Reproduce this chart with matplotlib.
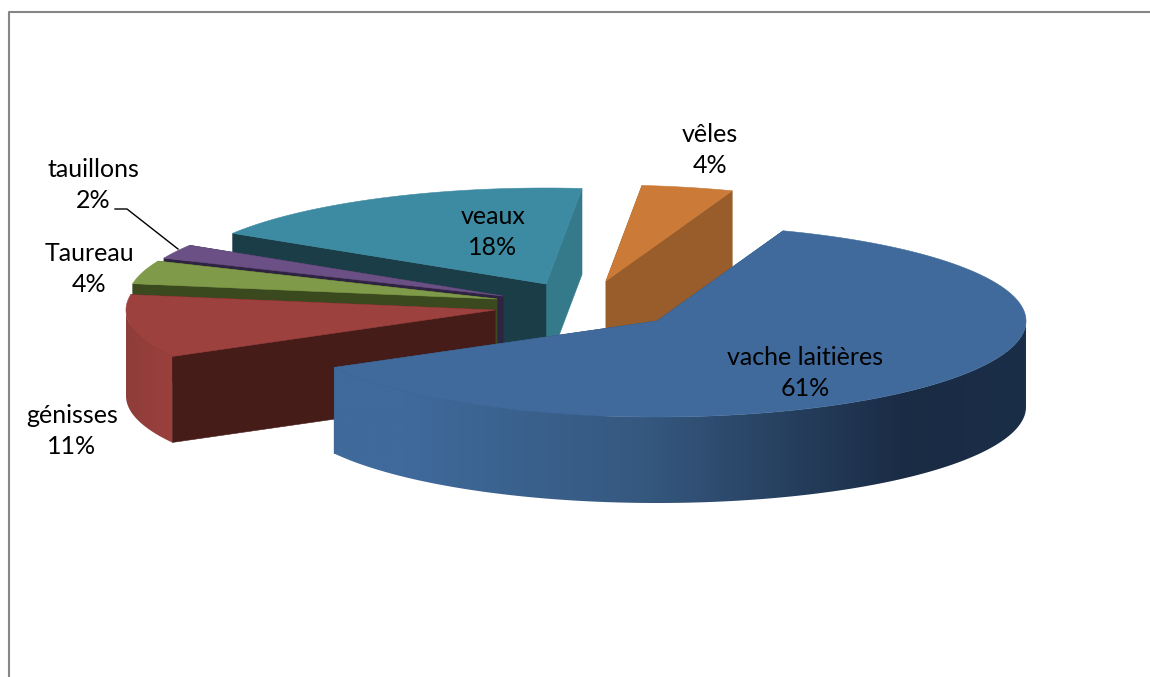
"""
Exploded 3D-style pie: herd composition.
"""
import numpy as np
import matplotlib
matplotlib.use("Agg")
import matplotlib.pyplot as plt
from matplotlib.colors import LinearSegmentedColormap
from matplotlib.patches import Polygon

# data, clockwise from the first slice
names = ["vache laitières", "génisses", "Taureau", "tauillons", "veaux", "vêles"]
shares = [61.4, 10.6, 3.9, 2.4, 17.7, 4.0]

# layout (pixels)
START_ANGLE = 70.0
RX, RY, DEPTH = 369, 96, 86
apex_x = [657, 495, 497, 503, 546, 606]
apex_y = [321, 310, 299, 296, 284, 281]
label_x = [805, 72, 89, 93, 493, 710]
label_y = [373, 431, 269, 185, 232, 150]

top_colors = ["#3f6a9b", "#9c413e", "#7f9b49", "#6a5084", "#3d8ba2", "#cb7a37"]
side_start = ["#2b4a6e", "#461c19", "#3a4a1e", "#2f2342", "#1a3d47", "#985d2a"]
side_end = ["#2b4a6e", "#461c19", "#3a4a1e", "#2f2342", "#357a8a", "#985d2a"]
wall_stops = [[(0, "#3f6a9b"), (0.1, "#3f6a9b"), (0.45, "#35587f"), (0.83, "#1a2b44"), (1, "#1b2e48")],
              ["#8f3d3a", "#9a403d"],
              ["#7f9b49", "#7f9b49"],
              ["#6a5084", "#6a5084"],
              ["#3d8ba2", "#3d8ba2"],
              ["#cb7a37", "#cb7a37"]]
draw_order = [5, 4, 3, 2, 1, 0]

plt.rcParams["font.family"] = ["Lato", "DejaVu Sans"]

fig = plt.figure(figsize=(11.5, 6.77), dpi=100)
ax = fig.add_axes([0, 0, 1, 1])
ax.set_xlim(0, 1150)
ax.set_ylim(677, 0)
ax.axis("off")

# chart frame, runs off the right and bottom of the picture
ax.plot([9, 9, 1150], [677, 12, 12], color="#868686", linewidth=1.5)

angles = np.cumsum([0] + [s / sum(shares) * 360 for s in shares])
angles = np.radians(START_ANGLE - angles)


def rim(i, t):
    return apex_x[i] + RX * np.cos(t), apex_y[i] - RY * np.sin(t)


def quad(pts, color, z):
    ax.add_patch(Polygon(pts, closed=True, facecolor=color, edgecolor=color,
                         linewidth=0.4, zorder=z))


for z, i in enumerate(draw_order):
    base = 10 * (z + 1)
    t0, t1 = angles[i], angles[i + 1]
    ax0, ay0 = apex_x[i], apex_y[i]

    # cut faces, the higher one first so the lower one sits over it
    faces = [(t0, side_start[i]), (t1, side_end[i])]
    faces.sort(key=lambda f: rim(i, f[0])[1])
    for k, (t, col) in enumerate(faces):
        x, y = rim(i, t)
        quad([(ax0, ay0), (x, y), (x, y + DEPTH), (ax0, ay0 + DEPTH)], col, base + k)

    # outer wall, only the front half of the rim shows
    tt = np.linspace(t0, t1, 400)
    xs, ys = rim(i, tt)
    front = np.sin(tt) <= 0
    if front.sum() > 1:
        fx, fy = xs[front], ys[front]
        order = np.argsort(fx)
        fx, fy = fx[order], fy[order]
        outline = list(zip(fx, fy)) + list(zip(fx[::-1], fy[::-1] + DEPTH))
        cmap = LinearSegmentedColormap.from_list("wall", wall_stops[i])
        grad = np.linspace(0, 1, 512).reshape(1, -1)
        im = ax.imshow(grad, cmap=cmap, aspect="auto", zorder=base + 2,
                       extent=[fx.min(), fx.max(), fy.max() + DEPTH, fy.min()])
        clip = Polygon(outline, closed=True, transform=ax.transData,
                       facecolor="none", edgecolor="none")
        ax.add_patch(clip)
        im.set_clip_path(clip)

    # top face
    quad([(ax0, ay0)] + list(zip(xs, ys)), top_colors[i], base + 3)

# imshow resets the limits
ax.set_xlim(0, 1150)
ax.set_ylim(677, 0)

for i, name in enumerate(names):
    ax.text(label_x[i], label_y[i], f"{name}\n{shares[i]:.0f}%", ha="center", va="center",
            fontsize=18, linespacing=1.38, color="black", zorder=100)

# leader line for the thin slice
ax.plot([115, 127, 178], [209, 209, 249], color="black", linewidth=1, zorder=100)

plt.savefig("out.png", dpi=100)
plt.close()
